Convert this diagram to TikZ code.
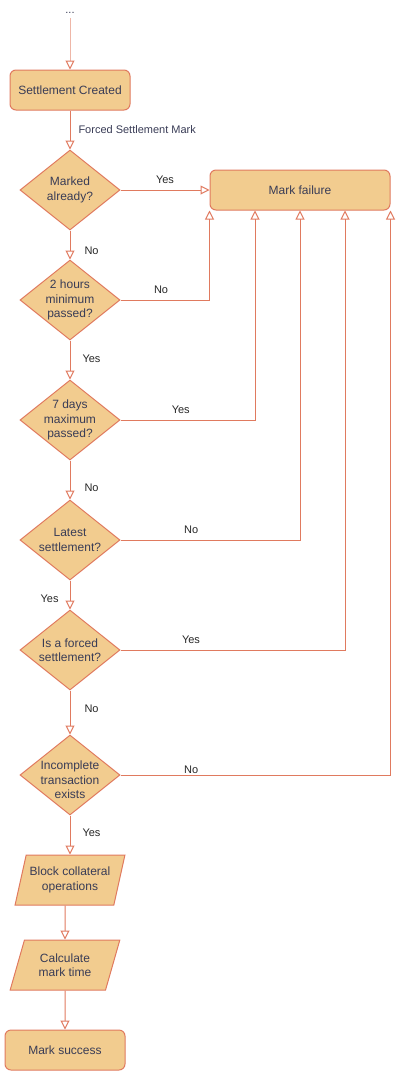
\documentclass[tikz,border=0pt]{standalone}
\usepackage{fontspec}
\setmainfont{Liberation Sans}
\usetikzlibrary{arrows.meta,shapes.geometric}
\definecolor{sandfill}{HTML}{F2CC8F}
\definecolor{sandline}{HTML}{E07A5F}
\definecolor{sandtext}{HTML}{393C56}

\begin{document}
\begin{tikzpicture}[x=1pt, y=-1pt,
    box/.style={draw=sandline, fill=sandfill, line width=1pt, rounded corners=6pt, minimum width=120pt, minimum height=40pt, inner sep=0pt, align=center, font=\fontsize{12}{14.4}\selectfont, text=sandtext},
    decision/.style={diamond, draw=sandline, fill=sandfill, line width=1pt, minimum width=100pt, minimum height=80pt, inner sep=0pt},
    qtext/.style={align=center, inner sep=0pt, font=\fontsize{12}{14.4}\selectfont, text=sandtext},
    io/.style={trapezium, trapezium left angle=68.2, trapezium right angle=111.8, trapezium stretches=true, draw=sandline, fill=sandfill, line width=1pt, minimum width=110pt, minimum height=50pt, inner sep=0pt, align=center, font=\fontsize{12}{14.4}\selectfont, text=sandtext},
    flow/.style={draw=sandline, line width=1pt, -{Triangle[open, length=9pt, width=9pt, color=sandline]}},
    lbl/.style={font=\fontsize{11}{13}\selectfont, text=black!85, inner sep=2pt},
]
\useasboundingbox (0,0) rectangle (407,1077);

\node[lbl, text=sandtext, inner sep=1pt] (dots) at (70,13) {...};
\node[box] (start) at (70,90) {Settlement Created};
\node[decision, label={[qtext]center:Marked\\already?}] (q1) at (70,190) {};
\node[box, minimum width=180pt] (fail) at (300,190) {Mark failure};
\node[decision, label={[qtext]center:2 hours\\minimum\\passed?}] (q2) at (70,300) {};
\node[decision, label={[qtext]center:7 days\\maximum\\passed?}] (q3) at (70,420) {};
\node[decision, label={[qtext]center:Latest\\settlement?}] (q4) at (70,540) {};
\node[decision, label={[qtext]center:Is a forced\\settlement?}] (q5) at (70,650) {};
\node[decision, label={[qtext, yshift=-5pt]center:Incomplete\\transaction\\exists}] (q6) at (70,775) {};
\node[io] (block) at (70,880) {Block collateral\\operations};
\node[io] (calc) at (65,965) {Calculate\\mark time};
\node[box] (done) at (65,1050) {Mark success};

% main line
\draw[flow, draw=sandline!55] ([yshift=-3pt]dots.south) -- (start);
\draw[flow] (start) -- node[lbl, right=6pt, text=sandtext] {Forced Settlement Mark} (q1);
\draw[flow] (q1) -- node[lbl, pos=0.7, right=12pt] {No} (q2);
\draw[flow] (q2) -- node[lbl, pos=0.47, right=10pt] {Yes} (q3);
\draw[flow] (q3) -- node[lbl, pos=0.7, right=12pt] {No} (q4);
\draw[flow] (q4) -- node[lbl, pos=0.63, left=9pt] {Yes} (q5);
\draw[flow] (q5) -- node[lbl, pos=0.42, right=12pt] {No} (q6);
\draw[flow] (q6) -- node[lbl, pos=0.45, right=10pt] {Yes} (block);
\draw[flow] (calc.north |- block.south) -- (calc);
\draw[flow] (calc) -- (done);

% failures
\draw[flow] (q1) -- node[lbl, above=4pt] {Yes} (fail);
\draw[flow] (q2.east) -| node[lbl, pos=0.228, above=4pt] {No} (fail.south west);
\draw[flow] (q3.east) -| node[lbl, pos=0.224, above=4pt] {Yes} ([xshift=-45pt]fail.south);
\draw[flow] (q4.east) -| node[lbl, pos=0.197, above=4pt] {No} (fail.south);
\draw[flow] (q5.east) -| node[lbl, pos=0.157, above=4pt] {Yes} ([xshift=45pt]fail.south);
\draw[flow] (q6.east) -| node[lbl, pos=0.131, above=-1pt] {No} (fail.south east);
\end{tikzpicture}
\end{document}
